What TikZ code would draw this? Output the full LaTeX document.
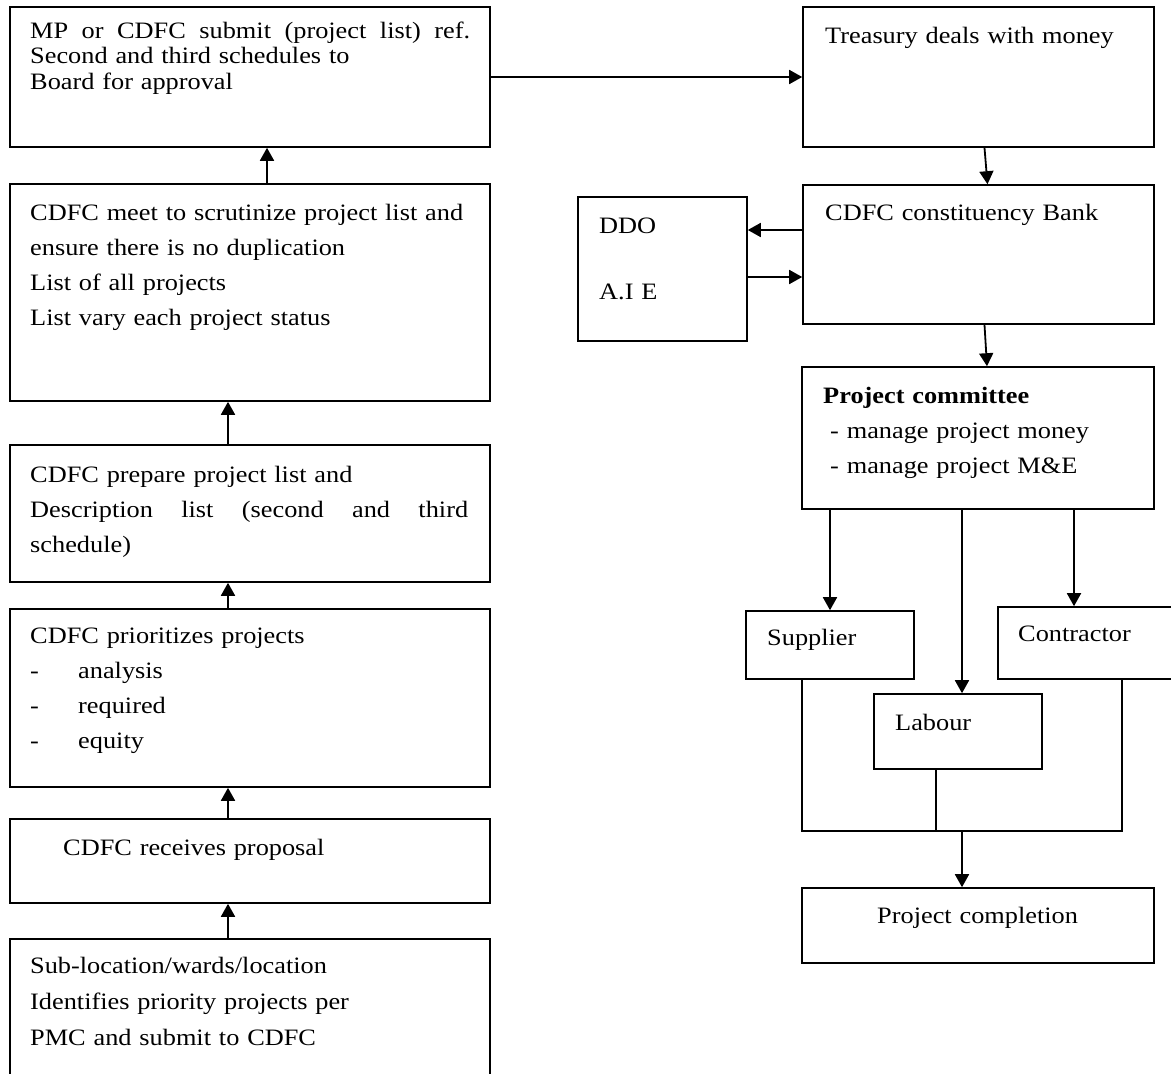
\documentclass[tikz,border=0pt]{standalone}
\usepackage{fontspec}
\setmainfont{Liberation Serif}[FakeStretch=1.12]
\usetikzlibrary{arrows.meta}

\begin{document}
\begin{tikzpicture}[x=1pt,y=-1pt,
  box/.style={draw,line width=1.6pt,inner sep=0pt},
  txt/.style={anchor=base west,inner sep=0pt,align=left,text width=#1,
    font=\fontsize{23.5}{35}\selectfont},
  txt/.default=330pt,
  arr/.style={line width=1.8pt,-{Triangle[length=13pt,width=14pt]}},
  wire/.style={line width=1.6pt}]
\useasboundingbox (0,0) rectangle (1171,1074);
\clip (0,0) rectangle (1171,1074);

% left column
\node[box,minimum width=480pt,minimum height=140pt] (mp) at (250,77) {};
\node[box,minimum width=480pt,minimum height=217pt] (meet) at (250,292.5) {};
\node[box,minimum width=480pt,minimum height=137pt] (prep) at (250,513.5) {};
\node[box,minimum width=480pt,minimum height=178pt] (prio) at (250,698) {};
\node[box,minimum width=480pt,minimum height=84pt] (recv) at (250,861) {};
\node[box,minimum width=480pt,minimum height=160pt] (ward) at (250,1019) {};

\node[txt=445pt,font=\fontsize{23.5}{25.5}\selectfont] (mptxt) at (30,38)
  {\makebox[440pt][l]{MP\hfill or\hfill CDFC\hfill submit\hfill (project\hfill list)\hfill ref.}\\Second and third schedules to\\Board for approval};
\node[txt=445pt] (meettxt) at (30,220)
  {CDFC meet to scrutinize project list and\\ensure there is no duplication\\List of all projects\\List vary each project status};
\node[txt=445pt] (preptxt) at (30,482)
  {CDFC prepare project list and\\\makebox[438pt][l]{Description\hfill list\hfill (second\hfill and\hfill third}\\schedule)};
\node[txt=445pt] (priotxt) at (30,643)
  {CDFC prioritizes projects\\\makebox[48pt][l]{-}analysis\\\makebox[48pt][l]{-}required\\\makebox[48pt][l]{-}equity};
\node[txt] (recvtxt) at (63,855) {CDFC receives proposal};
\node[txt=445pt,font=\fontsize{23.5}{36}\selectfont] (wardtxt) at (30,973)
  {Sub-location/wards/location\\Identifies priority projects per\\PMC and submit to CDFC};

\draw[arr] ([xshift=-22pt]ward.north) -- ([xshift=-22pt]recv.south);
\draw[arr] ([xshift=-22pt]recv.north) -- ([xshift=-22pt]prio.south);
\draw[arr] ([xshift=-22pt]prio.north) -- ([xshift=-22pt]prep.south);
\draw[arr] ([xshift=-22pt]prep.north) -- ([xshift=-22pt]meet.south);
\draw[arr] ([xshift=17pt]meet.north) -- ([xshift=17pt]mp.south);

% right column
\node[box,minimum width=351pt,minimum height=140pt] (treas) at (978.5,77) {};
\node[box,minimum width=351pt,minimum height=139pt] (bank) at (978.5,254.5) {};
\node[box,minimum width=169pt,minimum height=144pt] (ddo) at (662.5,269) {};
\node[box,minimum width=352pt,minimum height=142pt] (pc) at (978,438) {};
\node[box,minimum width=168pt,minimum height=68pt] (sup) at (830,645) {};
\node[box,minimum width=192pt,minimum height=72pt] (con) at (1094,643) {};
\node[box,minimum width=168pt,minimum height=75pt] (lab) at (958,731.5) {};
\node[box,minimum width=352pt,minimum height=75pt] (done) at (978,925.5) {};

\node[txt] (treastxt) at (825,43) {Treasury deals with money};
\node[txt] (banktxt) at (825,220) {CDFC constituency Bank};
\node[txt=150pt,font=\fontsize{23.5}{66}\selectfont] (ddotxt) at (599,233) {DDO\\A.I E};
\node[txt] (pctxt) at (823,403)
  {\textbf{Project committee}\\\hspace*{7pt}- manage project money\\\hspace*{7pt}- manage project M\&E};
\node[txt] (suptxt) at (767,645) {Supplier};
\node[txt] (contxt) at (1018,641) {Contractor};
\node[txt] (labtxt) at (895,730) {Labour};
\node[txt] (donetxt) at (877,923) {Project completion};

\coordinate (fl) at (802,831);
\coordinate (fm) at (936,831);
\coordinate (fr) at (1122,831);
\coordinate (merge) at (962,831);

\draw[arr] (mp.east) -- (treas.west);
\draw[arr] ([xshift=6pt]treas.south) -- ([xshift=9pt]bank.north);
\draw[arr] (bank.west |- 0,230) -- (ddo.east |- 0,230);
\draw[arr] (ddo.east |- 0,277) -- (bank.west |- 0,277);
\draw[arr] ([xshift=6pt]bank.south) -- ([xshift=9pt]pc.north);
\draw[arr] (pc.south -| sup.north) -- (sup.north);
\draw[arr] (pc.south -| 962,0) -- (lab.north -| 962,0);
\draw[arr] (pc.south -| 1074,0) -- (con.north -| 1074,0);
\draw[wire] (sup.south -| fl) -- (fl) -- (fr) -- (con.south -| fr);
\draw[wire] (lab.south -| fm) -- (fm);
\draw[arr] (merge) -- (done.north -| merge);
\end{tikzpicture}
\end{document}
